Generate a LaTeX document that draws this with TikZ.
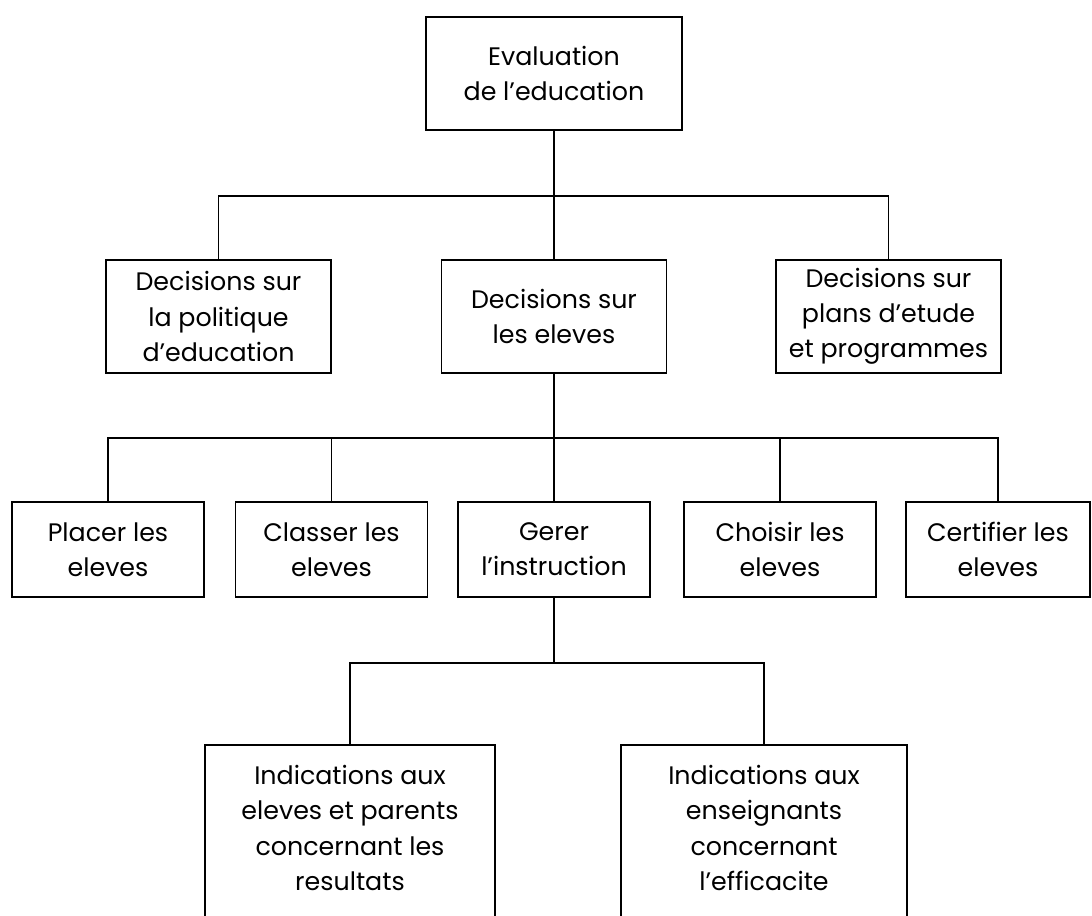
\documentclass[tikz,border=0pt]{standalone}
\usepackage{fontspec}
\setmainfont{Poppins}
\usepackage{tikz}
\usetikzlibrary{positioning, calc}
\tikzset{
  decbox/.style={draw, line width=1.2pt, align=center, inner sep=0pt,
    font=\fontsize{18}{25}\selectfont},
  openbox/.style={decbox, draw=none},
  link/.style={line width=0.8pt},
}

\begin{document}
\begin{tikzpicture}[x=0.025cm, y=-0.025cm]

  \useasboundingbox (0,0) rectangle (1092,915);
  \clip (0,0) rectangle (1092,915);

  %% top
  \node[decbox, minimum width=6.4cm, minimum height=2.825cm] (eval) at (554,73.5)
    {Evaluation\\de l’education};

  %% decisions
  \node[decbox, minimum width=5.625cm, minimum height=2.825cm] (pol) at (218.5,316.5)
    {Decisions sur\\la politique\\d’education};
  \node[decbox, minimum width=5.625cm, minimum height=2.825cm] (elev) at (554,316.5)
    {Decisions sur\\les eleves};
  \node[decbox, minimum width=5.625cm, minimum height=2.825cm] (plans) at (888.5,316.5)
    {Decisions sur\\plans d’etude\\et programmes};

  %% eleves
  \node[decbox, minimum width=4.8cm, minimum height=2.375cm] (placer) at (108,549.5)
    {Placer les\\eleves};
  \node[decbox, minimum width=4.8cm, minimum height=2.375cm] (classer) at (331.5,549.5)
    {Classer les\\eleves};
  \node[decbox, minimum width=4.8cm, minimum height=2.375cm] (gerer) at (554,549.5)
    {Gerer\\l’instruction};
  \node[decbox, minimum width=4.8cm, minimum height=2.375cm] (choisir) at (780,549.5)
    {Choisir les\\eleves};
  \node[decbox, minimum width=4.6cm, minimum height=2.375cm] (certif) at (998,549.5)
    {Certifier les\\eleves};

  %% indications (open at the bottom)
  \node[openbox, minimum width=7.2cm, minimum height=4.1cm] (res) at (350,828)
    {Indications aux\\eleves et parents\\concernant les\\resultats};
  \node[openbox, minimum width=7.1cm, minimum height=4.1cm] (eff) at (764,828)
    {Indications aux\\enseignants\\concernant\\l’efficacite};
  \draw[line width=1.2pt] ([yshift=-1cm]res.south west) -- (res.north west)
    -- (res.north east) -- ([yshift=-1cm]res.south east);
  \draw[line width=1.2pt] ([yshift=-1cm]eff.south west) -- (eff.north west)
    -- (eff.north east) -- ([yshift=-1cm]eff.south east);

  %% connectors
  \coordinate (j1) at (554,196);
  \coordinate (j2) at (554,438);
  \coordinate (j3) at (554,663);

  \draw[link] (eval.south) -- (j1);
  \draw[link] (pol.north) |- (j1) -| (plans.north);
  \draw[link] (j1) -- (elev.north);

  \draw[link] (elev.south) -- (j2);
  \draw[link] (placer.north) |- (j2) -| (certif.north);
  \draw[link] (classer.north) |- (j2);
  \draw[link] (choisir.north) |- (j2);
  \draw[link] (j2) -- (gerer.north);

  \draw[link] (gerer.south) -- (j3);
  \draw[link] (res.north) |- (j3) -| (eff.north);

\end{tikzpicture}
\end{document}
